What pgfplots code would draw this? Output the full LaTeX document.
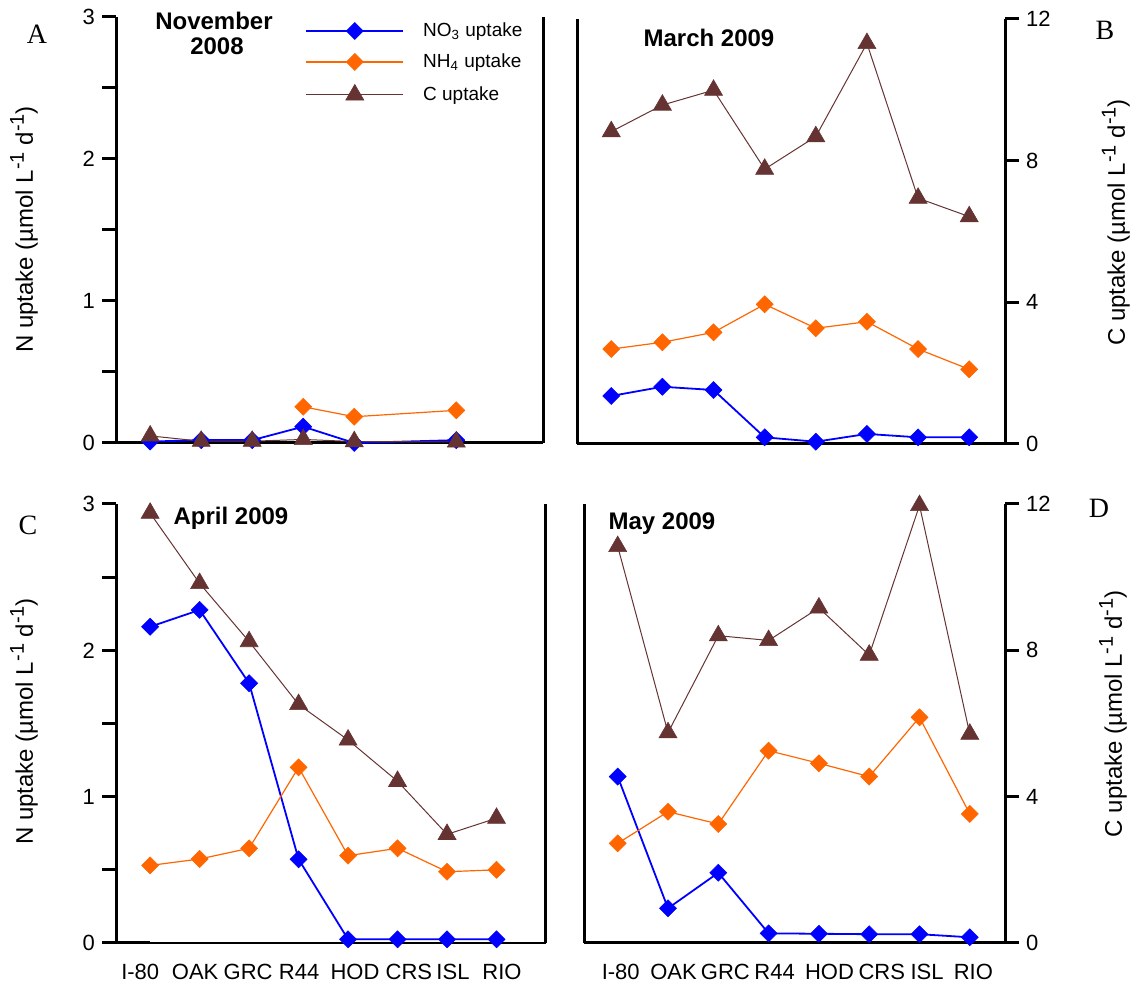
\documentclass[border=0pt]{standalone}
\usepackage{pgfplots}
\pgfplotsset{compat=1.18}
\usepackage{pgfplotstable}
\usepackage{fontspec}
\setmainfont{Liberation Sans}
\newfontfamily\lettfont{Liberation Serif}

\definecolor{no3c}{RGB}{0,0,255}
\definecolor{nh4c}{RGB}{255,102,0}
\definecolor{cupc}{RGB}{102,51,51}

% November 2008 (N in umol/L/d, C in umol/L/d)
\pgfplotstableread{
x n
0 0.010
1 0.020
2 0.020
3 0.115
4 0.000
6 0.020
}\NovNO
\pgfplotstableread{
x n
3 0.255
4 0.185
6 0.230
}\NovNH
\pgfplotstableread{
x c
0 0.20
1 0.05
2 0.05
3 0.10
4 0.04
6 0.03
}\NovC
% March 2009
\pgfplotstableread{
x no3 nh4 c
0 0.339 0.670 8.82
1 0.404 0.718 9.57
2 0.381 0.788 9.99
3 0.047 0.986 7.76
4 0.016 0.817 8.68
5 0.071 0.863 11.31
6 0.047 0.670 6.94
7 0.047 0.527 6.42
}\MarTab
% April 2009
\pgfplotstableread{
x no3 nh4 c
0 2.161 0.530 11.75
1 2.276 0.574 9.83
2 1.775 0.647 8.24
3 0.572 1.200 6.52
4 0.025 0.597 5.55
5 0.025 0.647 4.42
6 0.025 0.487 2.97
7 0.025 0.500 3.41
}\AprTab
% May 2009
\pgfplotstableread{
x no3 nh4 c
0 1.137 0.681 10.84
1 0.237 0.897 5.75
2 0.480 0.813 8.40
3 0.066 1.314 8.27
4 0.063 1.228 9.16
5 0.060 1.137 7.87
6 0.060 1.542 11.96
7 0.039 0.882 5.71
}\MayTab

\newcommand{\sups}[1]{\raisebox{0.38em}{\fontsize{10}{12}\selectfont #1}}

\pgfplotsset{
  no3/.style={color=no3c, line width=0.9pt, mark=square*, mark size=3.0pt, mark options={rotate=45, line width=0.3pt}},
  nh4/.style={color=nh4c, line width=0.6pt, mark=square*, mark size=3.0pt, mark options={rotate=45, line width=0.3pt}},
  cup/.style={color=cupc, line width=0.5pt, mark=triangle*, mark size=5.2pt, mark options={line width=0.3pt}},
  panel/.style={
    scale only axis, anchor=south west, clip=false,
    axis x line*=bottom, axis y line*=box,
    axis line style={line width=1.5pt, black},
    tick style={line width=1.5pt, black},
    major tick length=7pt, tick align=outside,
    xmin=-0.67, xmax=7.7,
    xtick style={draw=none},
    font=\fontsize{11}{13}\selectfont,
    ylabel style={font=\fontsize{12}{14}\selectfont, anchor=center},
  },
  leftN/.style={ymin=0, ymax=3, ytick={0,0.5,...,3}, yticklabels={0,,1,,2,,3},
    ytick pos=left, yticklabel pos=left,
    ylabel={N uptake (µmol L\sups{-1} d\sups{-1})}},
  rightC/.style={ymin=0, ymax=12, ytick={0,4,8,12}, yticklabels={0,4,8,12},
    ytick pos=right, yticklabel pos=right,
    ylabel={C uptake (µmol L\sups{-1} d\sups{-1})}},
}

\begin{document}
\begin{tikzpicture}
\path[use as bounding box] (0,0) rectangle (567.5pt,494pt);

% ---------- A ----------
\begin{axis}[panel, leftN, at={(58pt,272.5pt)}, width=213.5pt, height=213pt,
  xtick=\empty,
  ylabel style={at={(axis description cs:-0.2155,0.501)}},
  legend style={at={(axis description cs:0.4426,0.988)}, anchor=north west,
    draw=none, fill=none, font=\fontsize{9.5}{11}\selectfont,
    inner sep=0pt, row sep=7pt, column sep=9.5pt, nodes={inner sep=0pt}},
  legend cell align=left,
  legend image code/.code={\draw[mark repeat=2, mark phase=2, #1] plot coordinates {(0pt,0pt) (24.25pt,0pt) (48.5pt,0pt)};},
]
\addplot[no3] table[x=x, y=n] {\NovNO};
\addlegendentry{NO\textsubscript{3} uptake}
\addplot[nh4] table[x=x, y=n] {\NovNH};
\addlegendentry{NH\textsubscript{4} uptake}
\addplot[cup] table[x=x, y expr=\thisrow{c}/4] {\NovC};
\addlegendentry{C uptake}
\end{axis}

% ---------- B ----------
\begin{axis}[panel, rightC, at={(288.5pt,272pt)}, width=214pt, height=212.5pt,
  xtick=\empty,
  ylabel style={at={(axis description cs:1.259,0.521)}, rotate=0},
]
\addplot[no3] table[x=x, y expr=\thisrow{no3}*4] {\MarTab};
\addplot[nh4] table[x=x, y expr=\thisrow{nh4}*4] {\MarTab};
\addplot[cup] table[x=x, y=c] {\MarTab};
\end{axis}

% ---------- C ----------
\begin{axis}[panel, leftN, at={(58pt,22.5pt)}, width=215pt, height=219.5pt,
  xmin=-0.69, xmax=8.0,
  x axis line style={line width=0.7pt},
  xtick={-0.2,0.91,1.98,3.01,4.14,5.23,6.12,7.11},
  xticklabels={I-80,OAK,GRC,R44,HOD,CRS,ISL,RIO},
  ylabel style={at={(axis description cs:-0.214,0.5046)}},
]
\draw[line width=1.5pt] (axis cs:-0.69,0) -- (axis cs:0,0);
\addplot[no3] table[x=x, y=no3] {\AprTab};
\addplot[nh4] table[x=x, y=nh4] {\AprTab};
\addplot[cup] table[x=x, y expr=\thisrow{c}/4] {\AprTab};
\end{axis}

% ---------- D ----------
\begin{axis}[panel, rightC, at={(292pt,22.5pt)}, width=210.5pt, height=219.5pt,
  xtick={0.06,1.11,2.14,3.12,4.21,5.25,6.15,7.07},
  xticklabels={I-80,OAK,GRC,R44,HOD,CRS,ISL,RIO},
  ylabel style={at={(axis description cs:1.2565,0.522)}, rotate=0},
]
\addplot[no3] table[x=x, y expr=\thisrow{no3}*4] {\MayTab};
\addplot[nh4] table[x=x, y expr=\thisrow{nh4}*4] {\MayTab};
\addplot[cup] table[x=x, y=c] {\MayTab};
\end{axis}

% titles
\begin{scope}[every node/.style={font=\bfseries\fontsize{12}{14}\selectfont, anchor=base, inner sep=0pt}]
\node at (107pt,479pt) {November};
\node at (108.5pt,466.5pt) {2008};
\node at (354.5pt,470.5pt) {March 2009};
\node at (115.5pt,231.5pt) {April 2009};
\node at (331pt,229pt) {May 2009};
\end{scope}
% panel letters
\begin{scope}[every node/.style={font=\lettfont\fontsize{14}{16}\selectfont, anchor=base, inner sep=0pt}]
\node at (18.5pt,472.3pt) {A};
\node at (552.5pt,474pt) {B};
\node at (14pt,226.5pt) {C};
\node at (549.5pt,235pt) {D};
\end{scope}
\end{tikzpicture}
\end{document}
